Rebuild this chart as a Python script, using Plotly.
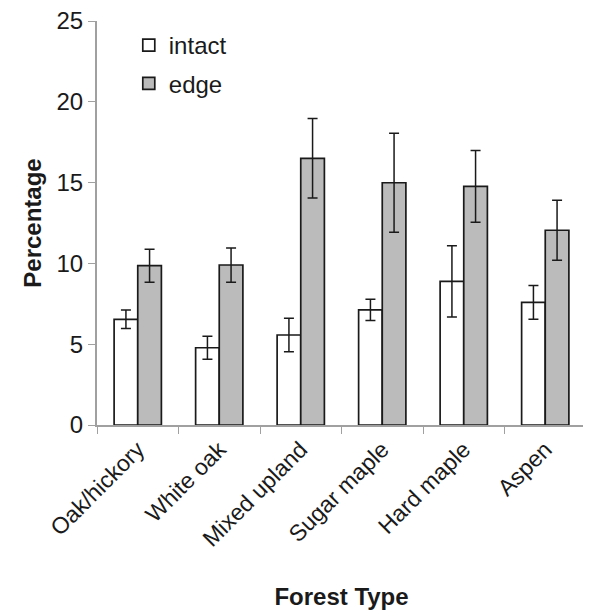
import plotly.graph_objects as go

categories = ["Oak/hickory", "White oak", "Mixed upland", "Sugar maple", "Hard maple", "Aspen"]
intact = [6.54, 4.78, 5.57, 7.12, 8.89, 7.59]
intact_err = [0.57, 0.71, 1.04, 0.66, 2.2, 1.05]
edge = [9.86, 9.90, 16.50, 14.99, 14.77, 12.05]
edge_err = [1.02, 1.06, 2.46, 3.07, 2.22, 1.86]

FONT = "Liberation Sans, Arial, sans-serif"

fig = go.Figure()
fig.add_trace(go.Bar(
    x=categories, y=intact, name="intact", legendgroup="a",
    marker=dict(color="white", line=dict(color="#1a1a1a", width=1.7)),
    error_y=dict(type="data", array=intact_err, color="#1a1a1a", thickness=1.5, width=5),
))
fig.add_trace(go.Bar(
    x=categories, y=edge, name="edge", legendgroup="b",
    marker=dict(color="#bbbbbb", line=dict(color="#1a1a1a", width=1.7)),
    error_y=dict(type="data", array=edge_err, color="#1a1a1a", thickness=1.5, width=5),
))

fig.update_layout(
    width=583, height=603,
    margin=dict(l=89, r=5, t=13, b=186, autoexpand=False),
    paper_bgcolor="white", plot_bgcolor="white",
    barmode="group", bargap=0.42, bargroupgap=0,
    font=dict(family=FONT, size=24, color="#1a1a1a"),
    showlegend=True,
    legend=dict(x=0.065, y=0.995, xanchor="left", yanchor="top",
                bgcolor="rgba(0,0,0,0)", font=dict(size=24),
                traceorder="grouped", tracegroupgap=4, itemwidth=30),
    xaxis=dict(
        tickson="boundaries", ticks="outside", ticklen=7, tickcolor="#a0a0a0",
        showline=True, linecolor="#a0a0a0", linewidth=2, automargin=False,
        tickangle=-45, tickfont=dict(size=23),
        title=dict(text="<b>Forest Type</b>", font=dict(size=24), standoff=38),
        showgrid=False,
    ),
    yaxis=dict(
        range=[0, 25], dtick=5, ticks="outside", ticklen=7, tickcolor="#a0a0a0",
        showline=True, linecolor="#a0a0a0", linewidth=2, automargin=True,
        ticklabeloverflow="allow",
        tickfont=dict(size=24), showgrid=False, zeroline=False,
        title=dict(text="<b>Percentage</b>", font=dict(size=24), standoff=8),
    ),
)

fig.write_html("out.html")
